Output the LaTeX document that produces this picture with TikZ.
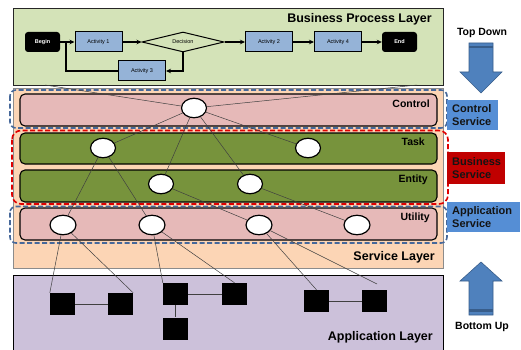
\documentclass[tikz,border=0pt]{standalone}
\usepackage{fontspec}
\setmainfont{Liberation Sans}
\usetikzlibrary{shapes.geometric,arrows.meta}
\newcommand{\myfs}[1]{\fontsize{#1}{#1}\selectfont}
\definecolor{bplgreen}{HTML}{D4E3B8}
\definecolor{peach}{HTML}{FCD5B5}
\definecolor{lav}{HTML}{CCC1DA}
\definecolor{rowpink}{HTML}{E6B9B8}
\definecolor{rowgreen}{HTML}{77933C}
\definecolor{actblue}{HTML}{95B3D7}
\definecolor{lblblue}{HTML}{558ED5}
\definecolor{lblred}{HTML}{C00000}
\definecolor{dashblue}{HTML}{46689A}
\definecolor{dashred}{HTML}{E00000}
\definecolor{arrblue}{HTML}{4F81BD}
\definecolor{arrdark}{HTML}{385D8A}
\definecolor{connclr}{HTML}{404040}
\tikzset{
  layerbox/.style={line width=0.9pt},
  rowbox/.style={draw=black, line width=1.1pt, rounded corners=5pt},
  bluedash/.style={draw=dashblue, line width=1.6pt, dash pattern=on 5pt off 2.5pt, rounded corners=6pt},
  reddash/.style={draw=dashred, line width=1.6pt, dash pattern=on 5pt off 2.5pt, rounded corners=9pt},
  ell/.style={ellipse, draw=black, fill=white, line width=1.2pt, minimum width=25pt, minimum height=19.5pt, inner sep=0pt},
  blk/.style={rectangle, fill=black, minimum width=25pt, minimum height=22pt, inner sep=0pt},
  conn/.style={draw=connclr, line width=0.5pt},
  rowlbl/.style={anchor=east, font=\bfseries\myfs{10.5}, inner sep=0pt},
  layerlbl/.style={anchor=east, font=\bfseries\myfs{12.5}, inner sep=0pt},
  svclbl/.style={rectangle, anchor=north west, align=left, inner xsep=5pt, inner ysep=0pt, font=\bfseries\fontsize{11}{13}\selectfont, text=black!92},
  dirlbl/.style={font=\bfseries\myfs{10.5}, inner sep=0pt},
  act/.style={rectangle, draw=black, line width=1pt, fill=actblue, minimum width=47pt, minimum height=20pt, inner sep=0pt, font=\myfs{5.5}},
  term/.style={rectangle, rounded corners=3pt, fill=black, text=white, minimum width=35pt, minimum height=20pt, inner sep=0pt, font=\bfseries\myfs{5.5}},
  dec/.style={diamond, draw=black, line width=1pt, aspect=4.1, minimum width=82pt, minimum height=20pt, inner sep=0pt, font=\myfs{5.5}},
  flow/.style={draw=black, line width=1.1pt, -{Stealth[length=5pt,width=4.5pt]}},
  flowline/.style={draw=black, line width=1.1pt},
  bigarrow/.style={fill=arrblue, draw=arrdark, line width=0.6pt}
}
\begin{document}
\begin{tikzpicture}[x=1pt, y=-1pt]
\useasboundingbox (0,0) rectangle (521,350);
% layers
\draw[layerbox, fill=bplgreen, draw=black!85] (13,8) rectangle (443,85);
\draw[layerbox, fill=peach, draw=black!45, line width=0.6pt] (13,88) rectangle (443,268);
\draw[layerbox, fill=lav, draw=black] (13,275) rectangle (443,356);
% rows
\draw[rowbox, fill=rowpink] (20,94) rectangle (437,126);
\draw[rowbox, fill=rowgreen] (20,133) rectangle (437,164);
\draw[rowbox, fill=rowgreen] (20,170) rectangle (437,202);
\draw[rowbox, fill=rowpink] (20,208) rectangle (437,240);
% dashed service groups
\draw[bluedash] (10,90) rectangle (447,128);
\draw[reddash] (12,130.5) rectangle (448,204);
\draw[bluedash] (10,206.5) rectangle (447,243);
% labels in layers
\node[layerlbl] (lblbpl) at (432,19) {Business Process Layer};
\node[layerlbl] (lblsvc) at (435,257) {Service Layer};
\node[layerlbl] (lblapp) at (433,337) {Application Layer};
\node[rowlbl] (lblctl) at (430,104) {Control};
\node[rowlbl] (lbltask) at (425,142) {Task};
\node[rowlbl] (lblent) at (428,180) {Entity};
\node[rowlbl] (lblutil) at (430,218) {Utility};
% process flow
\node[term] (begin) at (42.5,42) {Begin};
\node[act] (a1) at (98.5,42) {Activity 1};
\node[dec] (dec) at (183,42) {Decision};
\node[act] (a2) at (269,42) {Activity 2};
\node[act] (a4) at (338,42) {Activity 4};
\node[term] (endn) at (399.5,42) {End};
\node[act] (a3) at (142,71) {Activity 3};
\coordinate (join) at (66,42);
\draw[flow] (begin) -- (a1);
\draw[flow] (a1) -- (dec);
\draw[flow] (dec) -- (a2);
\draw[flow] (a2) -- (a4);
\draw[flow] (a4) -- (endn);
\draw[flow] (dec.south) |- (a3);
\draw[flowline] (a3.west) -| (join);
% service nodes
\coordinate (bplL) at (45,85);
\coordinate (bplR) at (417,85);
\node[ell] (c1) at (194,108) {};
\node[ell] (t1) at (103,148) {};
\node[ell] (t2) at (308,148) {};
\node[ell] (e1) at (161,184) {};
\node[ell] (e2) at (250,184) {};
\node[ell, minimum width=26pt] (u1) at (63,225) {};
\node[ell, minimum width=26pt] (u2) at (152,225) {};
\node[ell, minimum width=26pt] (u3) at (259,225) {};
\node[ell, minimum width=26pt] (u4) at (357,225) {};
% application blocks
\node[blk] (b1) at (62.5,304) {};
\node[blk] (b2) at (120.5,304) {};
\node[blk] (b3) at (175.5,294) {};
\node[blk] (b4) at (234.5,294) {};
\node[blk] (b5) at (175.5,328.5) {};
\node[blk] (b6) at (316.5,301) {};
\node[blk] (b7) at (374.5,301) {};
\coordinate (b7top) at (377,284);
% connectors
\draw[conn] (bplL) -- (c1);
\draw[conn] (bplR) -- (c1);
\draw[conn] (c1) -- (t1);
\draw[conn] (c1) -- (t2);
\draw[conn] (c1) -- (e1);
\draw[conn] (c1) -- (e2);
\draw[conn] (t1) -- (u1);
\draw[conn] (t1) -- (u2);
\draw[conn] (e1) -- (u3);
\draw[conn] (e2) -- (u4);
\draw[conn] (u1) -- (b1.north west);
\draw[conn] (u1) -- (b2.north east);
\draw[conn] (u2) -- (b3.north west);
\draw[conn] (u2) -- (b4.north);
\draw[conn] (u3) -- (b6.north);
\draw[conn] (u3) -- (b7top);
\draw[conn] (b1) -- (b2);
\draw[conn] (b3) -- (b4);
\draw[conn] (b3) -- (b5);
\draw[conn] (b6) -- (b7);
% right side
\node[dirlbl] (td) at (482,33) {Top Down};
\draw[bigarrow] (469,43) -- (493,43) -- (493,72) -- (502,72) -- (481,93) -- (460,72) -- (469,72) -- cycle;
\fill[arrdark] (469,46) rectangle (493,48.5);
\node[svclbl, fill=lblblue, text width=41pt, minimum height=30pt] (cs) at (447,100) {Control\\Service};
\node[svclbl, fill=lblred, text width=48pt, minimum height=32pt] (bs) at (447,152) {Business\\Service};
\node[svclbl, fill=lblblue, text width=63pt, minimum height=30pt] (as) at (447,202) {Application\\Service};
\draw[bigarrow] (481,262) -- (502,281) -- (493,281) -- (493,315) -- (469,315) -- (469,281) -- (460,281) -- cycle;
\fill[arrdark] (469,309) rectangle (493,311.5);
\node[dirlbl] (bu) at (482,327) {Bottom Up};
\end{tikzpicture}
\end{document}
